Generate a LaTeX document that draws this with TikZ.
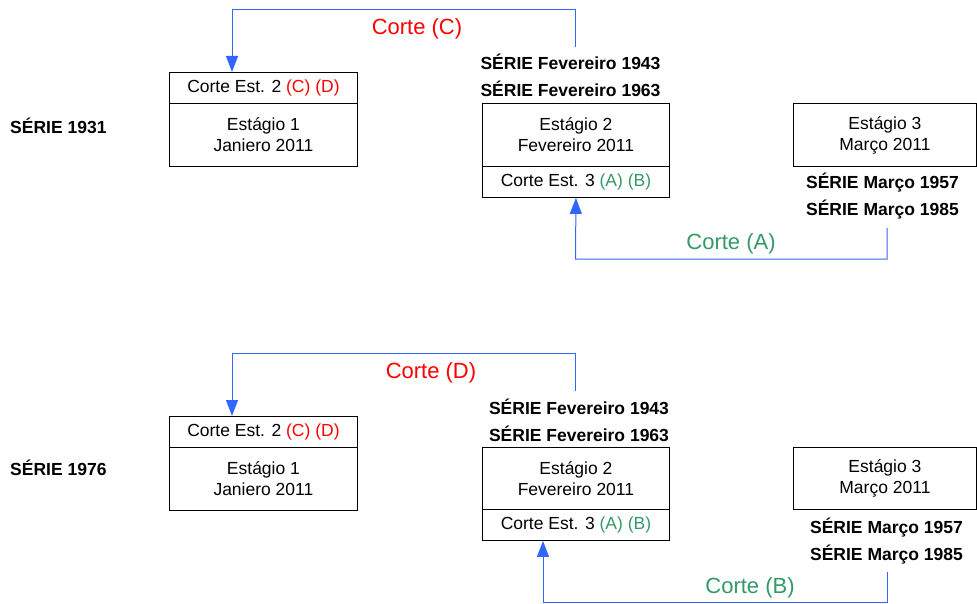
\documentclass[tikz,border=0pt]{standalone}
\usepackage{fontspec}
\setmainfont{Liberation Sans}
\usetikzlibrary{arrows.meta}
\definecolor{linkblue}{RGB}{51,102,255}
\definecolor{cutred}{RGB}{255,0,0}
\definecolor{cutgreen}{RGB}{51,153,102}
\tikzset{
  cell/.style={draw=black, line width=0.9pt, anchor=north west, inner sep=0pt,
    align=center, minimum width=188pt, minimum height=#1},
  series/.style={font=\fontsize{17.5}{21}\selectfont\bfseries, anchor=base, inner sep=0pt},
  cutlabel/.style={font=\fontsize{22}{26}\selectfont, anchor=base, inner sep=0pt},
  link/.style={draw=linkblue, line width=1pt, -{Triangle[width=12pt,length=16pt]}}
}
\begin{document}
\begin{tikzpicture}[x=1pt, y=-1pt, font=\fontsize{17.5}{21}\selectfont]
\useasboundingbox (0,0) rectangle (977,604);

% ---------- Série 1931 ----------
\node[series, anchor=base west] (serA) at (10,134) {SÉRIE 1931};
\node[cell=31pt] (cutA1) at (169,72) {Corte Est. 2 \textcolor{cutred}{(C) (D)}};
\node[cell=63pt] (stA1) at (169,103) {Estágio 1\\Janiero 2011};
\node[cell=63pt, minimum width=187pt] (stA2) at (482,103) {Estágio 2\\Fevereiro 2011};
\node[cell=31pt, minimum width=187pt] (cutA2) at (482,166) {Corte Est. 3 \textcolor{cutgreen}{(A) (B)}};
\node[cell=63pt, minimum width=183pt] (stA3) at (793,103) {Estágio 3\\Março 2011};

\node[series] (hA1) at (570.5,70) {SÉRIE Fevereiro 1943};
\node[series] (hA2) at (570.5,97) {SÉRIE Fevereiro 1963};
\node[series] (hA3) at (882.5,189) {SÉRIE Março 1957};
\node[series] (hA4) at (882.5,216) {SÉRIE Março 1985};

\coordinate (srcC) at (575,47);
\coordinate (bendC) at (232,10);
\draw[link] (srcC) |- (bendC) -- (bendC |- cutA1.north);
\node[cutlabel, text=cutred] (lblC) at (417,34.5) {Corte (C)};

\coordinate (srcA) at (887,228);
\coordinate (bendA) at (575.5,259);
\draw[link] (srcA) |- (bendA) -- (cutA2.south);
\node[cutlabel, text=cutgreen] (lblA) at (731,249) {Corte (A)};

% ---------- Série 1976 ----------
\node[series, anchor=base west] (serB) at (10,475) {SÉRIE 1976};
\node[cell=31pt] (cutB1) at (169,416) {Corte Est. 2 \textcolor{cutred}{(C) (D)}};
\node[cell=63pt] (stB1) at (169,447) {Estágio 1\\Janiero 2011};
\node[cell=62pt, minimum width=187pt] (stB2) at (482,447) {Estágio 2\\Fevereiro 2011};
\node[cell=31pt, minimum width=187pt] (cutB2) at (482,509) {Corte Est. 3 \textcolor{cutgreen}{(A) (B)}};
\node[cell=62pt, minimum width=183pt] (stB3) at (793,447) {Estágio 3\\Março 2011};

\node[series] (hB1) at (579,414) {SÉRIE Fevereiro 1943};
\node[series] (hB2) at (579,441) {SÉRIE Fevereiro 1963};
\node[series] (hB3) at (886.5,533) {SÉRIE Março 1957};
\node[series] (hB4) at (886.5,560) {SÉRIE Março 1985};

\coordinate (srcD) at (575,391);
\coordinate (bendD) at (232,353);
\draw[link] (srcD) |- (bendD) -- (bendD |- cutB1.north);
\node[cutlabel, text=cutred] (lblD) at (431,378) {Corte (D)};

\coordinate (srcB) at (887,572);
\coordinate (bendB) at (543,602);
\draw[link] (srcB) |- (bendB) -- (bendB |- cutB2.south);
\node[cutlabel, text=cutgreen] (lblB) at (750,593) {Corte (B)};
\end{tikzpicture}
\end{document}
